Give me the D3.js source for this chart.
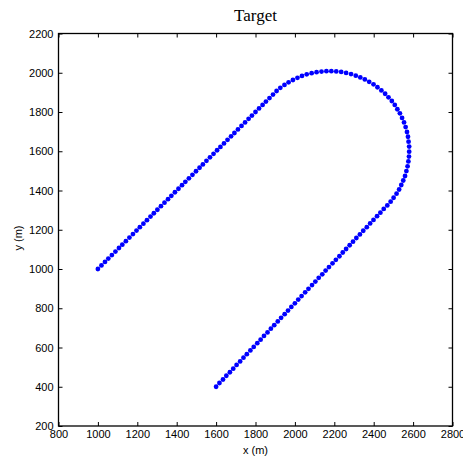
<!DOCTYPE html>
<html><head><meta charset="utf-8">
<script src="https://cdn.jsdelivr.net/npm/d3@7"></script>
<style>body{margin:0;background:#fff;}svg{display:block;}</style>
</head><body>
<svg id="chart" width="463" height="456"></svg>
<script>
const xTicks = [800,1000,1200,1400,1600,1800,2000,2200,2400,2600,2800];
const yTicks = [200,400,600,800,1000,1200,1400,1600,1800,2000,2200];
const titleText = "Target";
const xLabel = "x (m)";
const yLabel = "y (m)";

const targetX = [
1000,1018,1036,1053,1071,1089,1107,1124,1142,1160,1178,1196,1213,1231,1249,1267,1284,1302,1320,1338,1356,1373,1391,1409,1427,1444,1462,1480,1498,1516,1533,1551,1569,1587,1605,1622,1640,1658,1676,1693,1711,1729,1747,1765,1782,1800,1818,1836,1853,1871,
1889,1907,1926,1947,1968,1990,2013,2036,2060,2085,2110,2135,2160,2185,2210,2235,2260,2285,2309,2332,2355,2377,2399,2419,2439,2458,2475,2492,2507,2520,2533,2544,2554,2562,2569,2574,2577,2580,2580,2579,2576,2572,2566,2559,2550,2540,2529,2516,2501,2486,2469,
2451,2434,2417,2399,2382,2365,2347,2330,2312,2295,2278,2260,2243,2226,2208,2191,2173,2156,2139,2121,2104,2087,2069,2052,2034,2017,2000,1982,1965,1948,1930,1913,1895,1878,1861,1843,1826,1809,1791,1774,1756,1739,1722,1704,1687,1670,1652,1635,1617,1600];
const targetY = [
1000,1018,1036,1053,1071,1089,1107,1124,1142,1160,1178,1196,1213,1231,1249,1267,1284,1302,1320,1338,1356,1373,1391,1409,1427,1444,1462,1480,1498,1516,1533,1551,1569,1587,1605,1622,1640,1658,1676,1693,1711,1729,1747,1765,1782,1800,1818,1836,1853,1871,
1889,1907,1923,1938,1951,1963,1974,1984,1992,1998,2003,2006,2008,2008,2007,2004,1999,1993,1985,1976,1966,1954,1941,1926,1910,1893,1875,1856,1836,1814,1793,1770,1747,1723,1698,1674,1649,1624,1598,1573,1548,1523,1499,1474,1451,1428,1405,1384,1363,1343,1324,
1306,1287,1269,1250,1232,1213,1195,1176,1158,1139,1121,1102,1084,1065,1047,1029,1010,992,973,955,936,918,899,881,862,844,825,807,788,770,751,733,714,696,677,659,640,622,603,585,566,548,529,511,492,474,456,437,419,400];

const L = 58.5, R = 452.5, T = 33.5, B = 426;
const svg = d3.select("#chart");
const x = d3.scaleLinear().domain([800, 2800]).range([L, R]);
const y = d3.scaleLinear().domain([200, 2200]).range([B, T]);
const font = "'Liberation Sans', Arial, Helvetica, sans-serif";

function styleAxis(g, hideText) {
  g.select(".domain").remove();
  g.selectAll(".tick line").attr("stroke", "#000").attr("stroke-width", 1);
  g.selectAll(".tick text").attr("font-family", font).attr("font-size", "11px").attr("fill", "#000");
  if (hideText) g.selectAll(".tick text").remove();
}

svg.append("g").attr("transform", `translate(0,${B})`)
  .call(d3.axisBottom(x).tickValues(xTicks).tickFormat(d3.format("d")).tickSizeInner(-4).tickSizeOuter(0).tickPadding(4))
  .call(g => styleAxis(g, false));
svg.append("g").attr("transform", `translate(0,${T})`)
  .call(d3.axisTop(x).tickValues(xTicks).tickSizeInner(-4).tickSizeOuter(0))
  .call(g => styleAxis(g, true));
svg.append("g").attr("transform", `translate(${L},0)`)
  .call(d3.axisLeft(y).tickValues(yTicks).tickFormat(d3.format("d")).tickSizeInner(-4).tickSizeOuter(0).tickPadding(5))
  .call(g => styleAxis(g, false));
svg.append("g").attr("transform", `translate(${R},0)`)
  .call(d3.axisRight(y).tickValues(yTicks).tickSizeInner(-4).tickSizeOuter(0))
  .call(g => styleAxis(g, true));

svg.append("rect").attr("x", L).attr("y", T).attr("width", R - L).attr("height", B - T)
  .attr("fill", "none").attr("stroke", "#000").attr("stroke-width", 1.3);

const pts = targetX.map((v, i) => ({ x: v, y: targetY[i] }));
svg.append("g").selectAll("circle").data(pts).join("circle")
  .attr("cx", d => x(d.x)).attr("cy", d => y(d.y)).attr("r", 2.4)
  .attr("fill", "#0000ff");

svg.append("text").attr("x", (L + R) / 2).attr("y", 21).attr("text-anchor", "middle")
  .attr("font-family", "'Liberation Serif', 'Times New Roman', serif").attr("font-size", "17px")
  .text(titleText);
svg.append("text").attr("x", (L + R) / 2).attr("y", 454).attr("text-anchor", "middle")
  .attr("font-family", font).attr("font-size", "11px").text(xLabel);
svg.append("text").attr("transform", `translate(22,238) rotate(-90)`).attr("text-anchor", "middle")
  .attr("font-family", font).attr("font-size", "11px").text(yLabel);
</script>
</body></html>
